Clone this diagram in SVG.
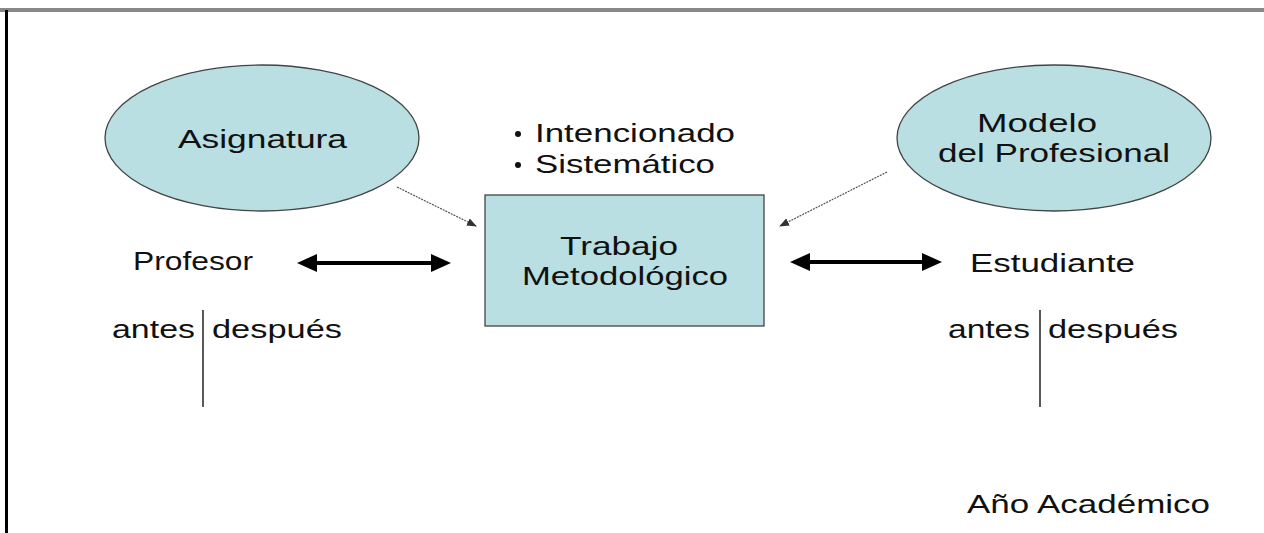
<svg xmlns="http://www.w3.org/2000/svg" width="1264" height="533" viewBox="0 0 1264 533">
<style>
.t{font-family:"Liberation Sans",Arial,sans-serif;font-size:25px;fill:#111}
.node{fill:#b9dfe3;stroke:#444;stroke-width:1.3}
.thin{stroke:#555;stroke-width:1.2;fill:none;stroke-dasharray:2 1}
.thick{stroke:#000;stroke-width:4;fill:none}
.sep{stroke:#222;stroke-width:1.5}
</style>
<defs>
<marker id="ah" markerWidth="10" markerHeight="8" refX="9" refY="4" orient="auto" markerUnits="userSpaceOnUse">
<path d="M0,0 L10,4 L0,8 Z" fill="#333"/>
</marker>
</defs>
<rect x="0" y="0" width="1264" height="533" fill="#fff"/>
<line x1="0" y1="10" x2="1264" y2="10" stroke="#888" stroke-width="4"/>
<line x1="6.5" y1="10" x2="6.5" y2="533" stroke="#000" stroke-width="3"/>

<g id="asignatura">
<ellipse class="node" cx="262" cy="138" rx="157" ry="73"/>
<text class="t" x="178" y="148" textLength="169" lengthAdjust="spacingAndGlyphs">Asignatura</text>
</g>
<g id="modelo">
<ellipse class="node" cx="1054" cy="138" rx="157" ry="73"/>
<text class="t" x="977" y="132" textLength="120" lengthAdjust="spacingAndGlyphs">Modelo</text>
<text class="t" x="938" y="162" textLength="232" lengthAdjust="spacingAndGlyphs">del Profesional</text>
</g>
<g id="trabajo">
<rect class="node" x="485" y="195" width="279" height="131"/>
<text class="t" x="560" y="255" textLength="118" lengthAdjust="spacingAndGlyphs">Trabajo</text>
<text class="t" x="522" y="285" textLength="206" lengthAdjust="spacingAndGlyphs">Metodológico</text>
</g>
<g id="bullets">
<circle cx="518" cy="134" r="3" fill="#111"/>
<text class="t" x="535" y="142" textLength="200" lengthAdjust="spacingAndGlyphs">Intencionado</text>
<circle cx="518" cy="165" r="3" fill="#111"/>
<text class="t" x="535" y="173" textLength="180" lengthAdjust="spacingAndGlyphs">Sistemático</text>
</g>
<g id="profesor">
<text class="t" x="133" y="270" textLength="120" lengthAdjust="spacingAndGlyphs">Profesor</text>
<text class="t" x="112" y="338" textLength="83" lengthAdjust="spacingAndGlyphs">antes</text>
<line class="sep" x1="203" y1="310" x2="203" y2="407"/>
<text class="t" x="212" y="338" textLength="130" lengthAdjust="spacingAndGlyphs">después</text>
</g>
<g id="estudiante">
<text class="t" x="970" y="272" textLength="165" lengthAdjust="spacingAndGlyphs">Estudiante</text>
<text class="t" x="948" y="338" textLength="82" lengthAdjust="spacingAndGlyphs">antes</text>
<line class="sep" x1="1040" y1="310" x2="1040" y2="407"/>
<text class="t" x="1048" y="338" textLength="130" lengthAdjust="spacingAndGlyphs">después</text>
</g>
<g id="anio">
<text class="t" x="967" y="513" textLength="243" lengthAdjust="spacingAndGlyphs">Año Académico</text>
</g>

<g id="connectors">
<line class="thin" x1="397" y1="187" x2="476" y2="226" marker-end="url(#ah)"/>
<line class="thin" x1="887" y1="172" x2="780" y2="226" marker-end="url(#ah)"/>
<line class="thick" x1="312" y1="263" x2="436" y2="263"/>
<polygon points="297,263 317,254 317,272" fill="#000"/>
<polygon points="451,263 431,254 431,272" fill="#000"/>
<line class="thick" x1="805" y1="262" x2="927" y2="262"/>
<polygon points="790,262 810,253 810,271" fill="#000"/>
<polygon points="942,262 922,253 922,271" fill="#000"/>
</g>
</svg>
